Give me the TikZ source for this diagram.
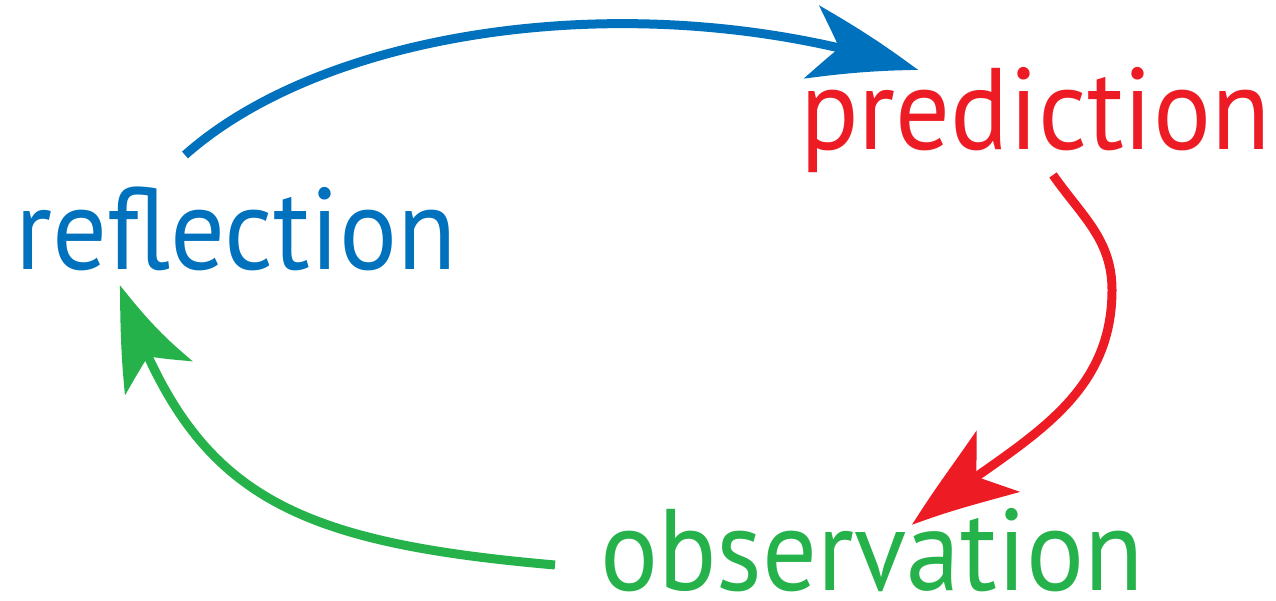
\documentclass[tikz,border=0pt]{standalone}
\usepackage{fontspec}
\setmainfont{PT Sans}[FakeStretch=0.935]
\usetikzlibrary{arrows.meta,bending}
\definecolor{cblue}{HTML}{0071BC}
\definecolor{cred}{HTML}{ED1C24}
\definecolor{cgreen}{HTML}{25B24B}
\tikzset{
  word/.style={inner sep=0pt, anchor=base west, font=\fontsize{116}{116}\selectfont},
  cyc/.style={line width=9pt, -{Stealth[length=110pt, width=74pt, inset=28pt, bend]}}
}
\begin{document}
\begin{tikzpicture}[x=1pt,y=1pt]
\useasboundingbox (0,0) rectangle (1276,601);
\node[word, text=cblue] (refl) at (15,331) {reflection};
\node[word, text=cred] (pred) at (800,451) {prediction};
\node[word, text=cgreen] (obs) at (600,10) {observation};
\coordinate (b1) at (185,446);
\coordinate (b2) at (918,531);
\coordinate (r1) at (1053,426);
\coordinate (rm) at (1112,311);
\coordinate (r2) at (912,76);
\coordinate (g1) at (555,36);
\coordinate (g2) at (120,316);
\draw[cyc, cblue] (b1) .. controls (330,575) and (650,620) .. (b2);
\draw[cyc, cred] (r1) to[out=-55,in=90] (rm) to[out=-90,in=40] (r2);
\draw[cyc, cgreen] (g1) .. controls (280,60) and (190,110) .. (g2);
\end{tikzpicture}
\end{document}
